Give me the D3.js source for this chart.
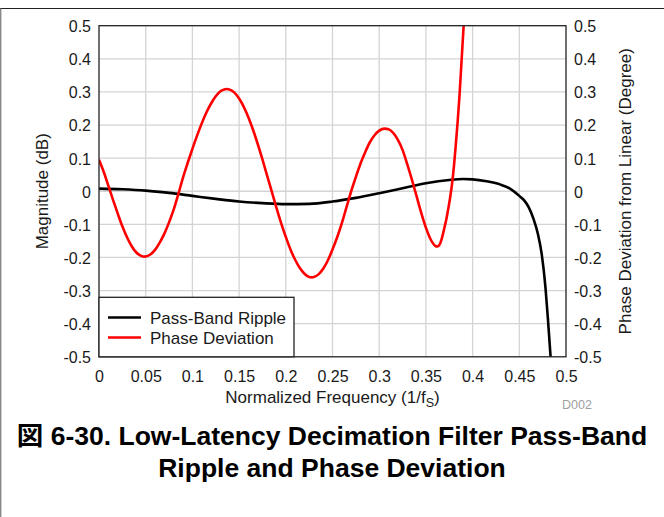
<!DOCTYPE html>
<html><head><meta charset="utf-8">
<script src="https://cdn.jsdelivr.net/npm/d3@7"></script>
<style>
html,body{margin:0;padding:0;background:#fff;}
svg{display:block;}
text{font-family:"Liberation Sans",Arial,"Noto Sans CJK JP",sans-serif;fill:#1a1a1a;}
</style></head>
<body>
<script>
// ---- data ----
const xTickValues = [0,0.05,0.1,0.15,0.2,0.25,0.3,0.35,0.4,0.45,0.5];
const xTickLabels = ["0","0.05","0.1","0.15","0.2","0.25","0.3","0.35","0.4","0.45","0.5"];
const yTickValues = [0.5,0.4,0.3,0.2,0.1,0,-0.1,-0.2,-0.3,-0.4,-0.5];
const yTickLabels = ["0.5","0.4","0.3","0.2","0.1","0","-0.1","-0.2","-0.3","-0.4","-0.5"];

const rippleFreq = [0,0.025,0.05,0.075,0.1,0.125,0.15,0.175,0.2,0.225,0.25,0.275,0.3,0.325,0.35,0.375,0.39,0.4,0.415,0.43,0.44,0.45,0.455,0.46,0.465,0.47,0.474,0.478,0.4805,0.4825,0.4835,0.4845];
const rippleDb = [0.008,0.006,0.002,-0.005,-0.014,-0.023,-0.031,-0.036,-0.039,-0.038,-0.031,-0.02,-0.006,0.009,0.024,0.034,0.037,0.036,0.03,0.02,0.008,-0.014,-0.027,-0.048,-0.082,-0.13,-0.19,-0.29,-0.38,-0.46,-0.5,-0.54];

const phaseFreq = [0,0.005,0.01,0.015,0.02,0.025,0.03,0.035,0.04,0.045,0.0486,0.055,0.06,0.065,0.07,0.075,0.08,0.085,0.09,0.095,0.1,0.105,0.11,0.115,0.12,0.125,0.13,0.135,0.1368,0.14,0.145,0.15,0.155,0.16,0.165,0.17,0.175,0.18,0.185,0.19,0.195,0.2,0.205,0.21,0.215,0.22,0.225,0.2279,0.23,0.235,0.24,0.245,0.25,0.255,0.26,0.265,0.27,0.275,0.28,0.285,0.29,0.295,0.3,0.3057,0.31,0.315,0.32,0.325,0.33,0.335,0.34,0.345,0.35,0.355,0.36,0.3618,0.364,0.367,0.37,0.372,0.374,0.376,0.378,0.38,0.382,0.384,0.386,0.388,0.39,0.392];
const phaseDeg = [0.095,0.059,0.017,-0.026,-0.067,-0.106,-0.139,-0.166,-0.185,-0.195,-0.1975,-0.191,-0.177,-0.155,-0.128,-0.094,-0.055,-0.008,0.042,0.086,0.128,0.168,0.205,0.238,0.265,0.287,0.302,0.308,0.309,0.307,0.298,0.28,0.255,0.223,0.185,0.142,0.096,0.047,-0.001,-0.05,-0.096,-0.138,-0.176,-0.207,-0.232,-0.249,-0.259,-0.26,-0.259,-0.251,-0.234,-0.209,-0.176,-0.139,-0.096,-0.048,0.0,0.043,0.084,0.118,0.148,0.169,0.183,0.189,0.187,0.176,0.155,0.125,0.082,0.035,-0.015,-0.065,-0.11,-0.145,-0.165,-0.167,-0.164,-0.143,-0.108,-0.083,-0.052,-0.018,0.022,0.075,0.14,0.21,0.29,0.385,0.48,0.575];

const seriesNames = ["Pass-Band Ripple","Phase Deviation"];
const seriesColors = ["#000000","#ff0000"];

// ---- layout ----
const W = 664, H = 517;
const plot = {left:99, right:566, top:25.7, bottom:356.8};

const svg = d3.select("body").append("svg").attr("width",W).attr("height",H);

// outer frame
svg.append("line").attr("x1",0).attr("x2",W).attr("y1",8.5).attr("y2",8.5).attr("stroke","#222").attr("stroke-width",1.2);
svg.append("line").attr("x1",0.7).attr("x2",0.7).attr("y1",8.5).attr("y2",H).attr("stroke","#888").attr("stroke-width",1.4);

const x = d3.scaleLinear().domain([0,0.5]).range([plot.left,plot.right]);
const yL = d3.scaleLinear().domain([-0.5,0.5]).range([plot.bottom,plot.top]);
const yR = d3.scaleLinear().domain([-0.5,0.5]).range([plot.bottom,plot.top]);

// grid
const grid = svg.append("g");
grid.selectAll("line.v").data(xTickValues.slice(1,-1)).enter().append("line")
  .attr("x1",d=>x(d)).attr("x2",d=>x(d)).attr("y1",plot.top).attr("y2",plot.bottom)
  .attr("stroke","#d4d4d4").attr("stroke-width",1.3);
grid.selectAll("line.h").data(yTickValues.slice(1,-1)).enter().append("line")
  .attr("y1",d=>yL(d)).attr("y2",d=>yL(d)).attr("x1",plot.left).attr("x2",plot.right)
  .attr("stroke","#d4d4d4").attr("stroke-width",1.3);

// clip
svg.append("clipPath").attr("id","clip").append("rect")
  .attr("x",plot.left).attr("y",plot.top).attr("width",plot.right-plot.left).attr("height",plot.bottom-plot.top);

const lineL = d3.line().x(d=>x(d[0])).y(d=>yL(d[1])).curve(d3.curveMonotoneX);
const lineR = d3.line().x(d=>x(d[0])).y(d=>yR(d[1])).curve(d3.curveMonotoneX);

const curves = svg.append("g").attr("clip-path","url(#clip)");
curves.append("path").datum(d3.zip(rippleFreq,rippleDb)).attr("d",lineL)
  .attr("fill","none").attr("stroke",seriesColors[0]).attr("stroke-width",2.6);
curves.append("path").datum(d3.zip(phaseFreq,phaseDeg)).attr("d",lineR)
  .attr("fill","none").attr("stroke",seriesColors[1]).attr("stroke-width",2.6);

// axes
const fs = "16px";
const ax = svg.append("g").attr("transform",`translate(0,${plot.bottom})`)
  .call(d3.axisBottom(x).tickValues(xTickValues).tickFormat((d,i)=>xTickLabels[i]).tickSize(0).tickPadding(14));
const ayl = svg.append("g").attr("transform",`translate(${plot.left},0)`)
  .call(d3.axisLeft(yL).tickValues(yTickValues).tickFormat((d,i)=>yTickLabels[i]).tickSize(0).tickPadding(8));
const ayr = svg.append("g").attr("transform",`translate(${plot.right},0)`)
  .call(d3.axisRight(yR).tickValues(yTickValues).tickFormat((d,i)=>yTickLabels[i]).tickSize(0).tickPadding(8));
[ax,ayl,ayr].forEach(g=>{
  g.select(".domain").remove();
  g.selectAll("text").style("font-size",fs).style("font-family",'"Liberation Sans",Arial,sans-serif').attr("fill","#1a1a1a");
});
ayl.selectAll("text").attr("dy","0.37em");
ayr.selectAll("text").attr("dy","0.37em");

// frame
svg.append("rect").attr("x",plot.left).attr("y",plot.top).attr("width",plot.right-plot.left).attr("height",plot.bottom-plot.top)
  .attr("fill","none").attr("stroke","#222").attr("stroke-width",1.3);

// legend
const lg = svg.append("g");
lg.append("rect").attr("x",plot.left).attr("y",297.3).attr("width",195).attr("height",plot.bottom-297.3)
  .attr("fill","#fff").attr("stroke","#222").attr("stroke-width",1.3);
seriesNames.forEach((n,i)=>{
  const cy = 317.5 + i*20;
  lg.append("line").attr("x1",108).attr("x2",141).attr("y1",cy).attr("y2",cy)
    .attr("stroke",seriesColors[i]).attr("stroke-width",2.6);
  lg.append("text").attr("x",150).attr("y",cy+6.3).style("font-size","17px").text(n);
});

// axis titles
const xt = svg.append("text").attr("x",(plot.left+plot.right)/2).attr("y",403).attr("text-anchor","middle").style("font-size","17px");
xt.append("tspan").text("Normalized Frequency (1/f");
xt.append("tspan").attr("dy",3.5).style("font-size","12.5px").text("S");
xt.append("tspan").attr("dy",-3.5).text(")");

svg.append("text").attr("transform",`translate(47.5,${(plot.top+plot.bottom)/2}) rotate(-90)`)
  .attr("text-anchor","middle").style("font-size","17px").text("Magnitude (dB)");
svg.append("text").attr("transform",`translate(631,${(plot.top+plot.bottom)/2}) rotate(-90)`)
  .attr("text-anchor","middle").style("font-size","17px").text("Phase Deviation from Linear (Degree)");

svg.append("text").attr("x",562).attr("y",409).style("font-size","12.5px").attr("fill","#a0a0a0").style("fill","#a0a0a0").text("D002");

// caption
const cap = ["図 6-30. Low-Latency Decimation Filter Pass-Band","Ripple and Phase Deviation"];
cap.forEach((t,i)=>{
  svg.append("text").attr("x",332).attr("y",445+i*32).attr("text-anchor","middle")
    .style("font-size","26.5px").style("font-weight","bold").style("fill","#000").text(t);
});
</script>
</body></html>
